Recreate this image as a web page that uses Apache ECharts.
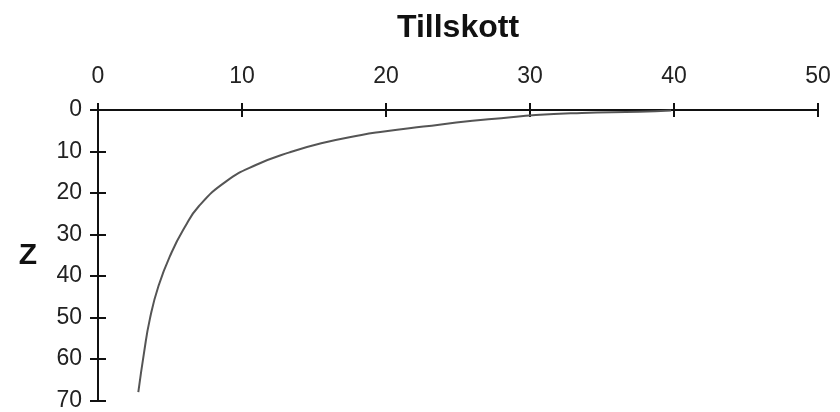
<!DOCTYPE html>
<html>
<head>
<meta charset="utf-8">
<title>Tillskott</title>
<script src="https://cdn.jsdelivr.net/npm/echarts@6/dist/echarts.min.js"></script>
<style>
  html, body { margin: 0; padding: 0; background: #ffffff; }
  #chart { width: 840px; height: 412px; }
</style>
</head>
<body>
<div id="chart"></div>
<script>
  // values: tillskott (x) against depth z (y, downwards)
  var zValues = [0.1, 0.4, 0.7, 1.2, 2.0, 2.6, 4.0, 5.3, 6.0, 8.0, 10.2, 13.2, 17.2, 23.2, 28.4, 34.4, 42.4, 50.4, 58.4, 68.0];
  var tillskott = [39.8, 37.6, 33.6, 30.4, 28.0, 26.0, 22.6, 19.6, 18.3, 15.5, 13.3, 11.0, 8.9, 7.0, 6.0, 5.1, 4.2, 3.6, 3.2, 2.8];
  var xTicks = [0, 10, 20, 30, 40, 50];
  var zTicks = [0, 10, 20, 30, 40, 50, 60, 70];

  var points = zValues.map(function (z, i) { return [tillskott[i], z]; });

  var chart = echarts.init(document.getElementById('chart'));
  var labelFont = 'Liberation Sans, Arial, sans-serif';

  chart.setOption({
    backgroundColor: '#ffffff',
    animation: false,
    grid: { left: 98, right: 22, top: 110, bottom: 10 },
    xAxis: [
      {
        type: 'value',
        position: 'top',
        min: xTicks[0],
        max: xTicks[xTicks.length - 1],
        interval: 10,
        name: 'Tillskott',
        nameLocation: 'middle',
        nameGap: 66,
        nameTextStyle: { fontFamily: labelFont, fontSize: 32, fontWeight: 'bold', color: '#111' },
        axisLine: { show: true, lineStyle: { color: '#111', width: 2 } },
        axisTick: { show: true, inside: false, length: 7, lineStyle: { color: '#111', width: 2 } },
        axisLabel: { margin: 22, fontFamily: labelFont, fontSize: 23, color: '#222' },
        splitLine: { show: false }
      },
      {
        // second copy only to make the ticks cross the line
        type: 'value',
        position: 'top',
        min: xTicks[0],
        max: xTicks[xTicks.length - 1],
        interval: 10,
        axisLine: { show: false },
        axisTick: { show: true, inside: true, length: 7, lineStyle: { color: '#111', width: 2 } },
        axisLabel: { show: false },
        splitLine: { show: false }
      }
    ],
    yAxis: [
      {
        type: 'value',
        inverse: true,
        min: zTicks[0],
        max: zTicks[zTicks.length - 1],
        interval: 10,
        name: 'Z',
        nameLocation: 'middle',
        nameRotate: 0,
        nameGap: 61,
        nameTextStyle: { fontFamily: labelFont, fontSize: 30, fontWeight: 'bold', color: '#111' },
        axisLine: { show: true, lineStyle: { color: '#111', width: 2 } },
        axisTick: { show: true, inside: false, length: 8, lineStyle: { color: '#111', width: 2 } },
        axisLabel: { margin: 16, fontFamily: labelFont, fontSize: 23, color: '#222' },
        splitLine: { show: false }
      },
      {
        type: 'value',
        inverse: true,
        position: 'left',
        min: zTicks[0],
        max: zTicks[zTicks.length - 1],
        interval: 10,
        axisLine: { show: false },
        axisTick: { show: true, inside: true, length: 8, lineStyle: { color: '#111', width: 2 } },
        axisLabel: { show: false },
        splitLine: { show: false }
      }
    ],
    series: [
      {
        type: 'line',
        xAxisIndex: 0,
        yAxisIndex: 0,
        data: points,
        smooth: 0.5,
        showSymbol: false,
        lineStyle: { color: '#555', width: 2 }
      }
    ]
  });
</script>
</body>
</html>
